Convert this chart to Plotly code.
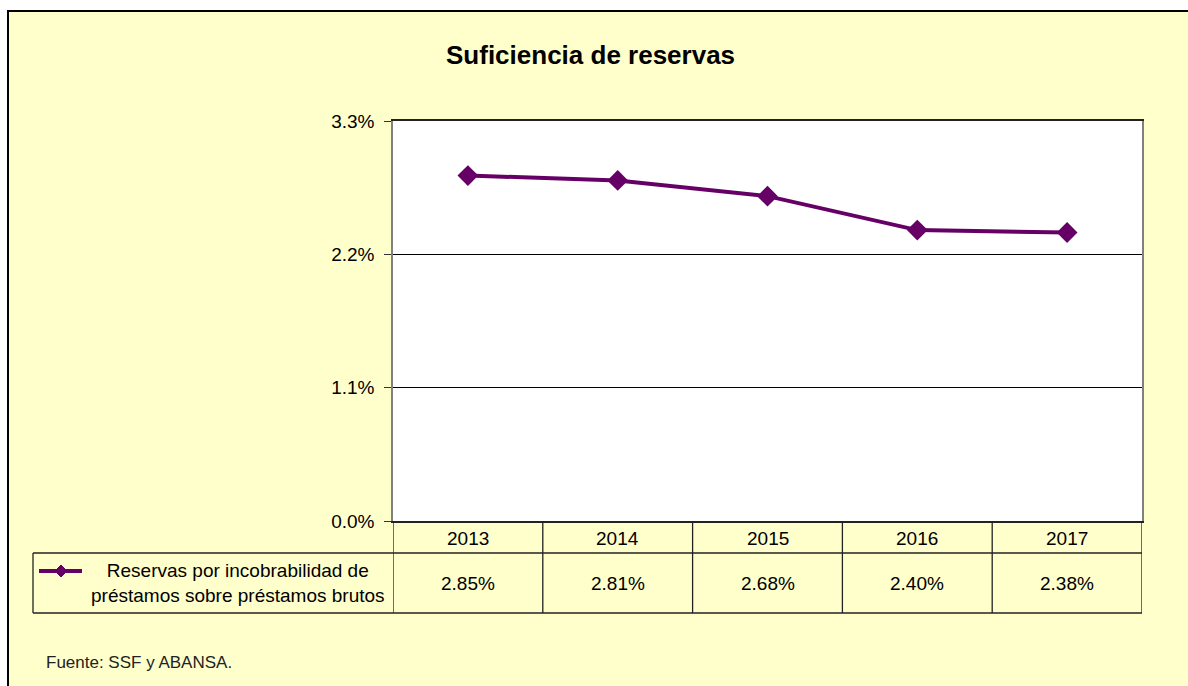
import plotly.graph_objects as go

years = ["2013", "2014", "2015", "2016", "2017"]
values = [2.85, 2.81, 2.68, 2.40, 2.38]
value_labels = ["2.85%", "2.81%", "2.68%", "2.40%", "2.38%"]
y_ticks = [0.0, 1.1, 2.2, 3.3]
y_tick_labels = ["0.0%", "1.1%", "2.2%", "3.3%"]
series_name = "Reservas por incobrabilidad de<br>préstamos sobre préstamos brutos"
title_text = "Suficiencia de reservas"
source_text = "Fuente: SSF y ABANSA."

W, H = 1188, 686
FONT = "Liberation Sans Narrow, Arial Narrow, Liberation Sans, Arial, sans-serif"
PURPLE = "#660066"
BG = "#FFFFCC"


def px(x):
    return x / W


def py(y):
    return 1 - y / H


fig = go.Figure()
fig.add_trace(go.Scatter(
    x=years, y=values, mode="lines+markers",
    line=dict(color=PURPLE, width=4),
    marker=dict(symbol="diamond", size=16, color=PURPLE),
    showlegend=False, cliponaxis=False,
))

shapes = []
# outer background frame
shapes.append(dict(type="rect", xref="paper", yref="paper",
                   x0=px(8), x1=1.03, y0=py(11), y1=-0.03,
                   fillcolor=BG, line=dict(color="black", width=2), layer="below"))
# plot area white fill
shapes.append(dict(type="rect", xref="paper", yref="paper",
                   x0=px(393), x1=px(1142), y0=py(521), y1=py(121),
                   fillcolor="white", line=dict(width=0), layer="below"))
line_style = dict(color="#222222", width=1.3)
for yy in [553, 613]:
    shapes.append(dict(type="line", xref="paper", yref="paper",
                       x0=px(33), x1=px(1142), y0=py(yy), y1=py(yy), line=line_style))
shapes.append(dict(type="line", xref="paper", yref="paper",
                   x0=px(33), x1=px(33), y0=py(553), y1=py(613), line=line_style))
for i in range(len(years) + 1):
    shapes.append(dict(type="line", xref="x", yref="paper",
                       x0=i - 0.5, x1=i - 0.5, y0=py(521), y1=py(613), line=line_style))
# legend sample line + diamond
shapes.append(dict(type="line", xref="paper", yref="paper",
                   x0=px(39), x1=px(82), y0=py(571), y1=py(571),
                   line=dict(color=PURPLE, width=4)))
cx, cy, r = 61, 571, 6
diamond = "M {},{} L {},{} L {},{} L {},{} Z".format(
    px(cx), py(cy - r), px(cx + r), py(cy), px(cx), py(cy + r), px(cx - r), py(cy))
shapes.append(dict(type="path", xref="paper", yref="paper", path=diamond,
                   fillcolor=PURPLE, line=dict(color=PURPLE, width=1)))

annotations = []
annotations.append(dict(text="<b>" + title_text + "</b>", x=px(590), y=py(55),
                        xref="paper", yref="paper", showarrow=False,
                        font=dict(family=FONT, size=26, color="black"),
                        xanchor="center", yanchor="middle"))
for i, (yr, lab) in enumerate(zip(years, value_labels)):
    annotations.append(dict(text=yr, x=i, y=py(538), xref="x", yref="paper",
                            showarrow=False, font=dict(family=FONT, size=19, color="black"),
                            xanchor="center", yanchor="middle"))
    annotations.append(dict(text=lab, x=i, y=py(583), xref="x", yref="paper",
                            showarrow=False, font=dict(family=FONT, size=19, color="black"),
                            xanchor="center", yanchor="middle"))
annotations.append(dict(text=series_name, x=px(238), y=py(583), xref="paper", yref="paper",
                        showarrow=False, font=dict(family=FONT, size=19, color="black"),
                        xanchor="center", yanchor="middle", align="center"))
annotations.append(dict(text=source_text, x=px(44), y=py(662), xref="paper", yref="paper",
                        showarrow=False, font=dict(family=FONT, size=17, color="#222222"),
                        xanchor="left", yanchor="middle"))

fig.update_layout(
    width=W, height=H,
    margin=dict(l=0, r=0, t=0, b=0, pad=0, autoexpand=False),
    paper_bgcolor="white",
    plot_bgcolor="rgba(0,0,0,0)",
    font=dict(family=FONT, size=19, color="black"),
    xaxis=dict(domain=[px(393), px(1142)], range=[-0.5, len(years) - 0.5],
               type="category", showticklabels=False, showgrid=False, zeroline=False,
               automargin=False,
               showline=True, linecolor="#222222", linewidth=1.5, mirror=True, ticks=""),
    yaxis=dict(domain=[py(521), py(121)], range=[0, 3.3], tickvals=y_ticks,
               ticktext=y_tick_labels, showgrid=True, gridcolor="black", gridwidth=1,
               zeroline=False, showline=True, linecolor="#808080", linewidth=1.5,
               automargin=False,
               mirror=True, ticks="outside", ticklen=7, tickcolor="#333333",
               ticklabelstandoff=6,
               tickfont=dict(family=FONT, size=19, color="black")),
    shapes=shapes,
    annotations=annotations,
)

fig.write_html("out.html", config={"displayModeBar": False},
               post_script="document.body.style.margin='0';document.body.style.overflow='hidden';")
